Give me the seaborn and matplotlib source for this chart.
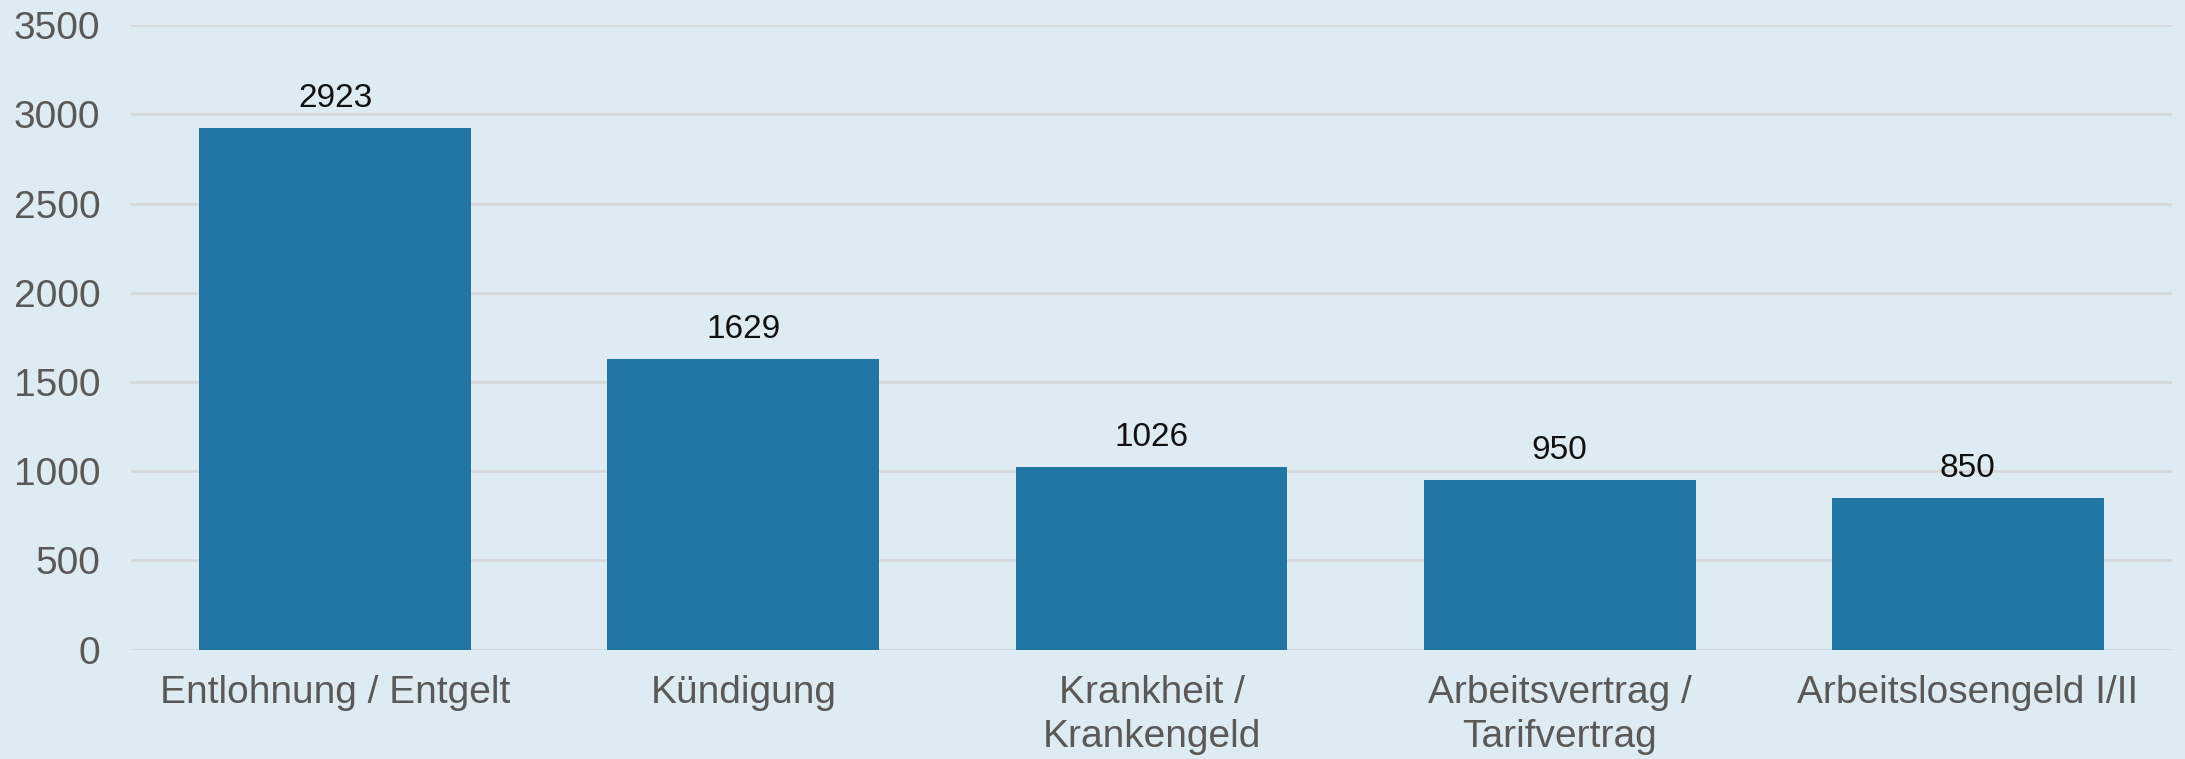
import matplotlib
matplotlib.use("Agg")
import matplotlib.pyplot as plt
import seaborn as sns
import pandas as pd

# Data
categories = ["Entlohnung / Entgelt", "Kündigung", "Krankheit /\nKrankengeld",
              "Arbeitsvertrag /\nTarifvertrag", "Arbeitslosengeld I/II"]
counts = [2923, 1629, 1026, 950, 850]
yticks = [0, 500, 1000, 1500, 2000, 2500, 3000, 3500]

bg = "#deebf3"
bar_color = "#2276a5"

sns.set_theme(style="whitegrid")
plt.rcParams["font.family"] = ["Liberation Sans Narrow", "Liberation Sans", "DejaVu Sans"]

df = pd.DataFrame({"Kategorie": categories, "Anzahl": counts})

fig = plt.figure(figsize=(21.85, 7.59), dpi=100, facecolor=bg)
ax = fig.add_axes([0.06, 0.144, 0.934, 0.823])
ax.set_facecolor(bg)

sns.barplot(data=df, x="Kategorie", y="Anzahl", color=bar_color, saturation=1,
            width=0.666, linewidth=0, ax=ax)

# value labels above bars
for i, v in enumerate(counts):
    ax.annotate(str(v), (i, v), xytext=(0, 10), textcoords="offset points",
                ha="center", va="bottom", fontsize=24, color="#111111")

ax.set_ylim(0, 3500)
ax.set_xlim(-0.5, len(categories) - 0.5)
ax.set_yticks(yticks)
ax.set_xlabel("")
ax.set_ylabel("")
ax.grid(axis="y", color="#d6d9db", linewidth=2)
ax.grid(axis="x", visible=False)
ax.set_axisbelow(True)
for s in ax.spines.values():
    s.set_visible(False)
ax.tick_params(axis="y", length=0, pad=22, labelsize=28, labelcolor="#595959")
ax.tick_params(axis="x", length=0, pad=18, labelsize=28, labelcolor="#595959")
for t in ax.get_xticklabels():
    t.set_linespacing(1.3)

fig.savefig("out.png", dpi=100, facecolor=bg)
